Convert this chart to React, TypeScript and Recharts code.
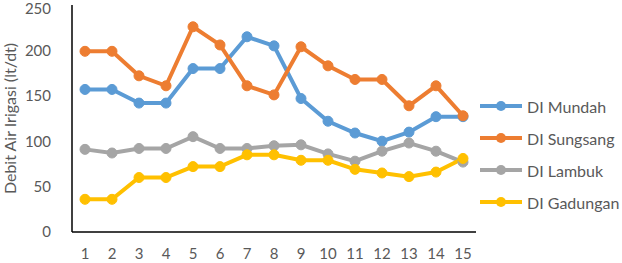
import React from 'react';
import { LineChart, Line, XAxis, YAxis } from 'recharts';

const days = ['1', '2', '3', '4', '5', '6', '7', '8', '9', '10', '11', '12', '13', '14', '15'];
const mundah = [157, 157, 142, 142, 180, 180, 215, 205, 147, 122, 109, 100, 110, 127, 127];
const sungsang = [199, 199, 172, 161, 226, 206, 161, 151, 204, 183, 168, 168, 139, 161, 128];
const lambuk = [91, 87, 92, 92, 105, 92, 92, 95, 96, 86, 78, 89, 98, 89, 77];
const gadungan = [36, 36, 60, 60, 72, 72, 85, 85, 79, 79, 69, 65, 61, 66, 81];
const yTicks = [0, 50, 100, 150, 200, 250];

const SERIES = [
  { key: 'mundah', name: 'DI Mundah', color: '#5B9BD5' },
  { key: 'sungsang', name: 'DI Sungsang', color: '#ED7D31' },
  { key: 'lambuk', name: 'DI Lambuk', color: '#A5A5A5' },
  { key: 'gadungan', name: 'DI Gadungan', color: '#FFC000' },
];

const data = days.map((d, i) => ({
  day: d,
  mundah: mundah[i],
  sungsang: sungsang[i],
  lambuk: lambuk[i],
  gadungan: gadungan[i],
}));

const FONT = 'Lato, "Open Sans", sans-serif';
const TEXT = '#595959';

const LegendBox = () => (
  <div
    style={{
      position: 'absolute',
      left: 480,
      top: 90,
      fontFamily: FONT,
      fontSize: 16,
      color: TEXT,
      whiteSpace: 'nowrap',
    }}
  >
    {SERIES.map((s) => (
      <div key={s.key} style={{ display: 'flex', alignItems: 'center', height: 32 }}>
        <svg width={44} height={12}>
          <line x1={0} y1={6} x2={42} y2={6} stroke={s.color} strokeWidth={4} />
          <circle cx={21} cy={6} r={5} fill={s.color} />
        </svg>
        <span style={{ marginLeft: 3 }}>{s.name}</span>
      </div>
    ))}
  </div>
);

export default function App() {
  return (
    <div style={{ position: 'absolute', left: 0, top: 0, width: 622, height: 263, background: '#fff' }}>
      <LineChart
        width={622}
        height={263}
        data={data}
        margin={{ top: 5, right: 146, left: 0, bottom: 0 }}
      >
        <XAxis
          dataKey="day"
          height={31}
          padding={{ left: 13, right: 13 }}
          tickLine={false}
          tickSize={0}
          tickMargin={16}
          axisLine={{ stroke: '#000', strokeWidth: 1.5 }}
          tick={{ fill: TEXT, fontSize: 15, fontFamily: FONT }}
          interval={0}
        />
        <YAxis
          width={72}
          domain={[0, 250]}
          ticks={yTicks}
          tickLine={false}
          tickSize={0}
          tickMargin={21}
          axisLine={{ stroke: '#000', strokeWidth: 1.5 }}
          tick={{ fill: TEXT, fontSize: 15, fontFamily: FONT }}
          label={{
            value: 'Debit Air Irigasi (lt/dt)',
            angle: -90,
            position: 'insideLeft',
            offset: 10,
            style: { textAnchor: 'middle', fill: TEXT, fontSize: 16, fontFamily: FONT },
          }}
        />
        {SERIES.map((s) => (
          <Line
            key={s.key}
            dataKey={s.key}
            name={s.name}
            stroke={s.color}
            strokeWidth={4}
            dot={{ r: 5, fill: s.color, stroke: s.color, strokeWidth: 1 }}
            activeDot={false}
            isAnimationActive={false}
          />
        ))}
      </LineChart>
      <LegendBox />
    </div>
  );
}
